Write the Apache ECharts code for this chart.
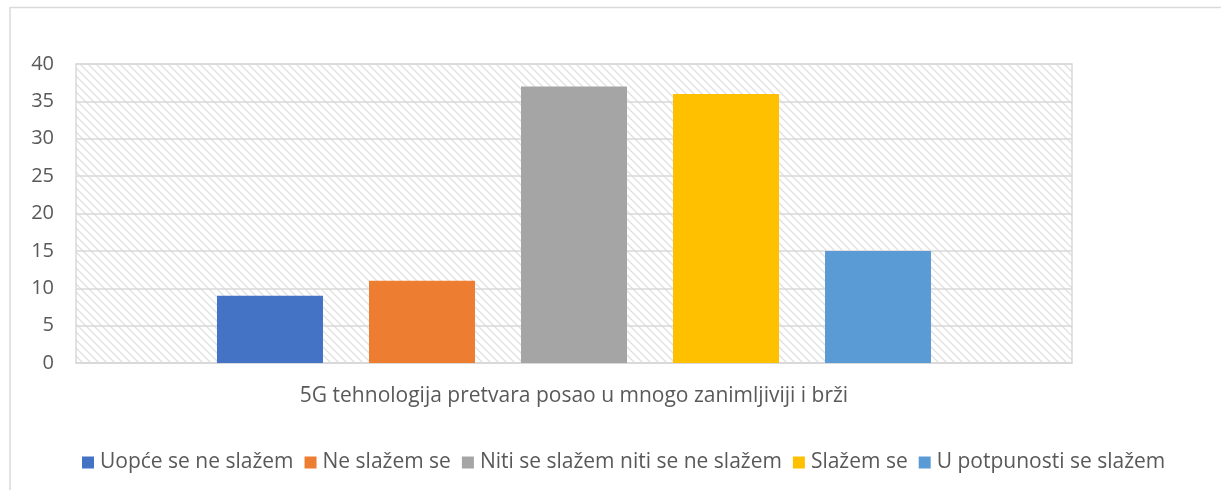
<!DOCTYPE html>
<html>
<head>
<meta charset="utf-8">
<script src="https://cdn.jsdelivr.net/npm/echarts@6/dist/echarts.min.js"></script>
<style>html,body{margin:0;padding:0;background:#fff}#c{width:1221px;height:490px}</style>
</head>
<body>
<div id="c"></div>
<script>
const categories = ['5G tehnologija pretvara posao u mnogo zanimljiviji i brži'];
const seriesNames = ['Uopće se ne slažem', 'Ne slažem se', 'Niti se slažem niti se ne slažem', 'Slažem se', 'U potpunosti se slažem'];
const seriesValues = [9, 11, 37, 36, 15];
const seriesColors = ['#4472C4', '#ED7D31', '#A5A5A5', '#FFC000', '#5B9BD5'];
const yTicks = [0, 5, 10, 15, 20, 25, 30, 35, 40];

const FONT = 'Open Sans';
const TXT = '#595959';

// hatch pattern
const pc = document.createElement('canvas');
pc.width = 8; pc.height = 8;
const g = pc.getContext('2d');
g.fillStyle = '#ffffff'; g.fillRect(0, 0, 8, 8);
g.strokeStyle = '#e0e0e0'; g.lineWidth = 1.3;
g.beginPath();
g.moveTo(-2, -2); g.lineTo(10, 10);
g.moveTo(-10, -2); g.lineTo(2, 10);
g.moveTo(6, -2); g.lineTo(18, 10);
g.stroke();

const chart = echarts.init(document.getElementById('c'), null, {renderer: 'canvas'});
chart.setOption({
  animation: false,
  backgroundColor: '#ffffff',
  textStyle: {fontFamily: FONT},
  graphic: [
    {type: 'line', shape: {x1: 10, y1: 7.5, x2: 1221, y2: 7.5}, style: {stroke: '#d9d9d9', lineWidth: 1.5}, silent: true},
    {type: 'line', shape: {x1: 10, y1: 7, x2: 10, y2: 490}, style: {stroke: '#d9d9d9', lineWidth: 1.5}, silent: true}
  ],
  grid: {
    left: 76, right: 149, top: 64, bottom: 127,
    show: true,
    backgroundColor: {image: pc, repeat: 'repeat'},
    borderColor: '#d9d9d9', borderWidth: 1.5
  },
  legend: {
    data: seriesNames,
    left: 77, top: 447,
    icon: 'rect', itemWidth: 12, itemHeight: 12, itemGap: 11,
    textStyle: {color: TXT, fontSize: 21, fontFamily: FONT, padding: [0, 0, 0, 1]}
  },
  xAxis: {
    type: 'category',
    data: categories,
    axisLine: {show: true, lineStyle: {color: '#d9d9d9', width: 1.5}},
    axisTick: {show: false},
    axisLabel: {color: TXT, fontSize: 21, fontFamily: FONT, margin: 23}
  },
  yAxis: {
    type: 'value',
    min: 0, max: 40, interval: 5,
    axisLine: {show: false},
    axisTick: {show: false},
    axisLabel: {color: TXT, fontSize: 20, fontFamily: FONT, margin: 22,
      formatter: v => yTicks.includes(v) ? String(v) : ''},
    splitLine: {show: true, lineStyle: {color: '#d9d9d9', width: 1.5}}
  },
  series: seriesNames.map((n, i) => ({
    name: n,
    type: 'bar',
    data: [seriesValues[i]],
    barWidth: 106,
    barGap: '43.4%',
    itemStyle: {color: seriesColors[i]}
  }))
});
</script>
</body>
</html>
